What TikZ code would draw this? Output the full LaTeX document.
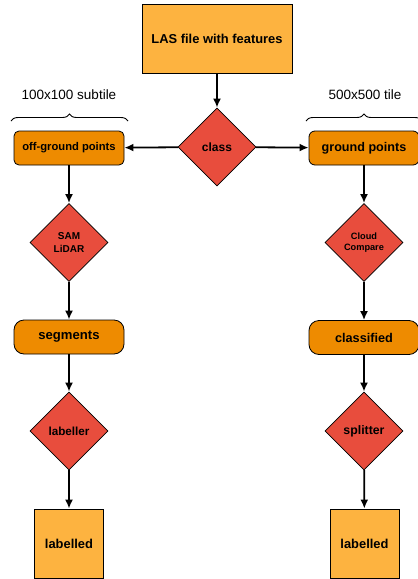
\documentclass[tikz,border=0pt]{standalone}
\usepackage{fontspec}
\setmainfont{Liberation Sans}
\usetikzlibrary{shapes.geometric,arrows.meta,decorations.pathreplacing}
\definecolor{lightorange}{HTML}{FDB340}
\definecolor{darkorange}{HTML}{EE8B00}
\definecolor{decisionred}{HTML}{E84D3D}

\begin{document}
\begin{tikzpicture}[x=1pt,y=-1pt]
  \tikzset{
    filebox/.style={draw, line width=.8pt, fill=lightorange, inner sep=0pt,
      font=\bfseries\fontsize{12.9}{15}\selectfont},
    databox/.style={draw, line width=.8pt, fill=darkorange, rounded corners=6pt,
      minimum width=110pt, minimum height=34pt, inner sep=0pt,
      font=\bfseries\fontsize{12.7}{15}\selectfont},
    decision/.style={diamond, draw, line width=.8pt, fill=decisionred,
      minimum size=78pt, inner sep=0pt, align=center,
      font=\bfseries\fontsize{12}{14}\selectfont},
    flow/.style={-{Latex[length=9pt,width=8pt]}, line width=1.8pt},
    span/.style={decorate, decoration={brace, amplitude=7pt}, line width=.9pt},
    tilelabel/.style={font=\fontsize{13.5}{16}\selectfont}
  }
  \useasboundingbox (0,0) rectangle (418,579);

  % source and split
  \node[filebox, minimum width=150pt, minimum height=69pt] (las) at (217,38.5) {LAS file with features};
  \node[decision] (class) at (217,147) {class};
  \node[databox, rounded corners=5pt, font=\bfseries\fontsize{11.2}{13}\selectfont]
    (offground) at (69,148) {off-ground points};
  \node[databox, font=\bfseries\fontsize{12.6}{15}\selectfont] (ground) at (364,148) {ground points};

  % left branch
  \node[decision, font=\bfseries\fontsize{10}{13}\selectfont] (samlidar) at (69,242.5) {SAM\\LiDAR};
  \node[databox, rounded corners=10pt, font=\bfseries\fontsize{13.1}{15}\selectfont] (segments) at (69,337) {segments};
  \node[decision, font=\bfseries\fontsize{11.7}{14}\selectfont] (labeller) at (69,431) {labeller};
  \node[filebox, minimum size=69pt] (labelledleft) at (69,543.5) {labelled};

  % right branch
  \node[decision, font=\bfseries\fontsize{9.2}{10.8}\selectfont] (cloudcompare) at (364,242.5) {Cloud\\Compare};
  \node[databox, rounded corners=10pt] (classified) at (364,337.5) {classified};
  \node[decision, font=\bfseries\fontsize{12.3}{14}\selectfont] (splitter) at (364,431) {splitter};
  \node[filebox, minimum size=69pt] (labelledright) at (364.5,543.5) {labelled};

  % tile sizes
  \coordinate (subtilestart) at (11,121);
  \coordinate (subtileend) at (128,121);
  \coordinate (tilestart) at (306,121);
  \coordinate (tileend) at (422,121);
  \draw[span] (subtilestart) -- (subtileend);
  \draw[span] (tilestart) -- (tileend);
  \node[tilelabel] (subtile) at (69,95) {100x100 subtile};
  \node[tilelabel] (tile) at (365,95) {500x500 tile};

  \draw[flow] (las) -- (class);
  \draw[flow] (class) -- (offground);
  \draw[flow] (class) -- (ground);
  \draw[flow] (offground) -- (samlidar);
  \draw[flow] (samlidar) -- (segments);
  \draw[flow] (segments) -- (labeller);
  \draw[flow] (labeller) -- (labelledleft);
  \draw[flow] (ground) -- (cloudcompare);
  \draw[flow] (cloudcompare) -- (classified);
  \draw[flow] (classified) -- (splitter);
  \draw[flow] (splitter) -- (labelledright);
\end{tikzpicture}
\end{document}
